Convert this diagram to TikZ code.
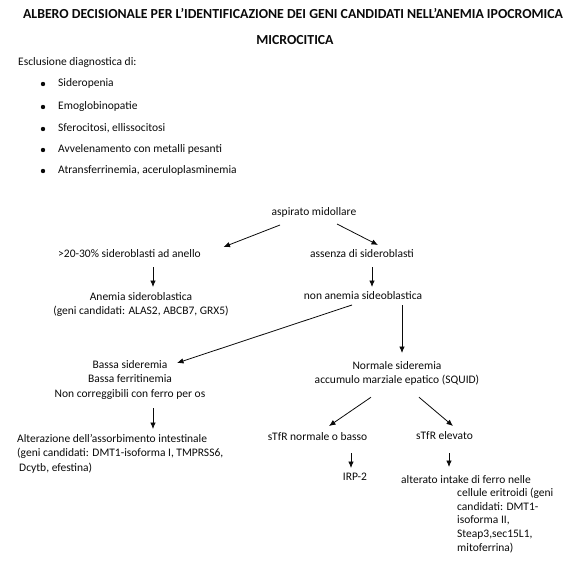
\documentclass[tikz,border=0pt]{standalone}
\usepackage{fontspec}
\setmainfont{Carlito}
\usepackage{tikz}
\usetikzlibrary{calc,arrows.meta}
\definecolor{ink}{RGB}{10,10,10}

\begin{document}
\begin{tikzpicture}[x=1pt,y=-1pt,
  txt/.style={ink,inner sep=0pt,text height=8pt,text depth=2.3pt,font=\fontsize{11.5}{14.5}\selectfont},
  blk/.style={ink,inner sep=0pt,font=\fontsize{11.5}{14.5}\selectfont},
  arr/.style={ink,line width=0.8pt,-{Latex[length=6.5pt,width=5.5pt]}}]
\useasboundingbox (0,0) rectangle (565,567);
\node[ink,inner sep=0pt,font=\fontsize{13.8}{16}\selectfont\bfseries] (titolo) at (293,14) {ALBERO DECISIONALE PER L’IDENTIFICAZIONE DEI GENI CANDIDATI NELL’ANEMIA IPOCROMICA};
\node[ink,inner sep=0pt,font=\fontsize{13.8}{16}\selectfont\bfseries] (titolo2) at (295,40) {MICROCITICA};
\node[txt,anchor=west] (esclusione) at (18,63) {Esclusione diagnostica di:};
\foreach \yy/\voce in {84/Sideropenia, 107/Emoglobinopatie, 129/{Sferocitosi, ellissocitosi},
    150/Avvelenamento con metalli pesanti, 171/{Atransferrinemia, aceruloplasminemia}}{
  \fill[ink] (43,\yy) circle (2.2pt);
  \node[txt,anchor=west] (voce\yy) at (58,\yy) {\voce};
}

% albero
\node[txt] (aspirato) at (314,213) {aspirato midollare};
\node[txt] (anello) at (129.5,255) {>20-30\% sideroblasti ad anello};
\node[txt] (assenza) at (362,255) {assenza di sideroblasti};
\node[blk,align=center,anchor=north] (anemia) at (141,292) {Anemia sideroblastica\\(geni candidati: ALAS2, ABCB7, GRX5)};
\node[txt] (nonanemia) at (363,297) {non anemia sideoblastica};
\node[blk,align=center,anchor=north] (bassa) at (130,360) {Bassa sideremia\\Bassa ferritinemia\\Non correggibili con ferro per os};
\node[blk,align=center,anchor=north] (normale) at (397,361) {Normale sideremia\\accumulo marziale epatico (SQUID)};
\node[blk,align=left,anchor=north west] (assorb) at (17,434) {Alterazione dell’assorbimento intestinale\\(geni candidati: DMT1-isoforma I, TMPRSS6,\\\hspace*{2pt}Dcytb, efestina)};
\node[txt] (basso) at (317.5,438) {sTfR normale o basso};
\node[txt] (elevato) at (444.5,437) {sTfR elevato};
\node[txt] (irp) at (355,478) {IRP-2};
\node[blk,align=left,anchor=north west,font=\fontsize{11.5}{13.6}\selectfont] (intake) at (401,475) {alterato intake di ferro nelle\\\hspace*{56pt}cellule eritroidi (geni\\\hspace*{56pt}candidati: DMT1-\\\hspace*{56pt}isoforma II,\\\hspace*{56pt}Steap3,sec15L1,\\\hspace*{56pt}mitoferrina)};

\draw[arr] ($(aspirato)+(-34,12)$) -- ($(anello)+(94,-8)$);
\draw[arr] ($(aspirato)+(23,11)$) -- ($(assenza)+(16,-10)$);
\draw[arr] ($(anello)+(23.5,12)$) -- ($(anemia.north)+(12,-5)$);
\draw[arr] ($(assenza)+(10,12)$) -- ($(nonanemia)+(9,-10)$);
\draw[arr] ($(nonanemia)+(-11,8)$) -- ($(bassa.north)+(47,3)$);
\draw[arr] ($(nonanemia)+(39,8)$) -- ($(normale.north)+(5,-8)$);
\draw[arr] ($(bassa.south)+(23,9)$) -- ($(bassa.south |- assorb.north)+(23,-5)$);
\draw[arr] ($(normale.south)+(-26,11.5)$) -- ($(basso)+(11.5,-12)$);
\draw[arr] ($(normale.south)+(22,11.5)$) -- ($(elevato)+(8.5,-11)$);
\draw[arr] ($(basso)+(33.5,15)$) -- ($(irp)+(-4,-10)$);
\draw[arr] ($(elevato)+(4.5,16)$) -- ($(intake.north west)+(48,-8)$);
\end{tikzpicture}
\end{document}
